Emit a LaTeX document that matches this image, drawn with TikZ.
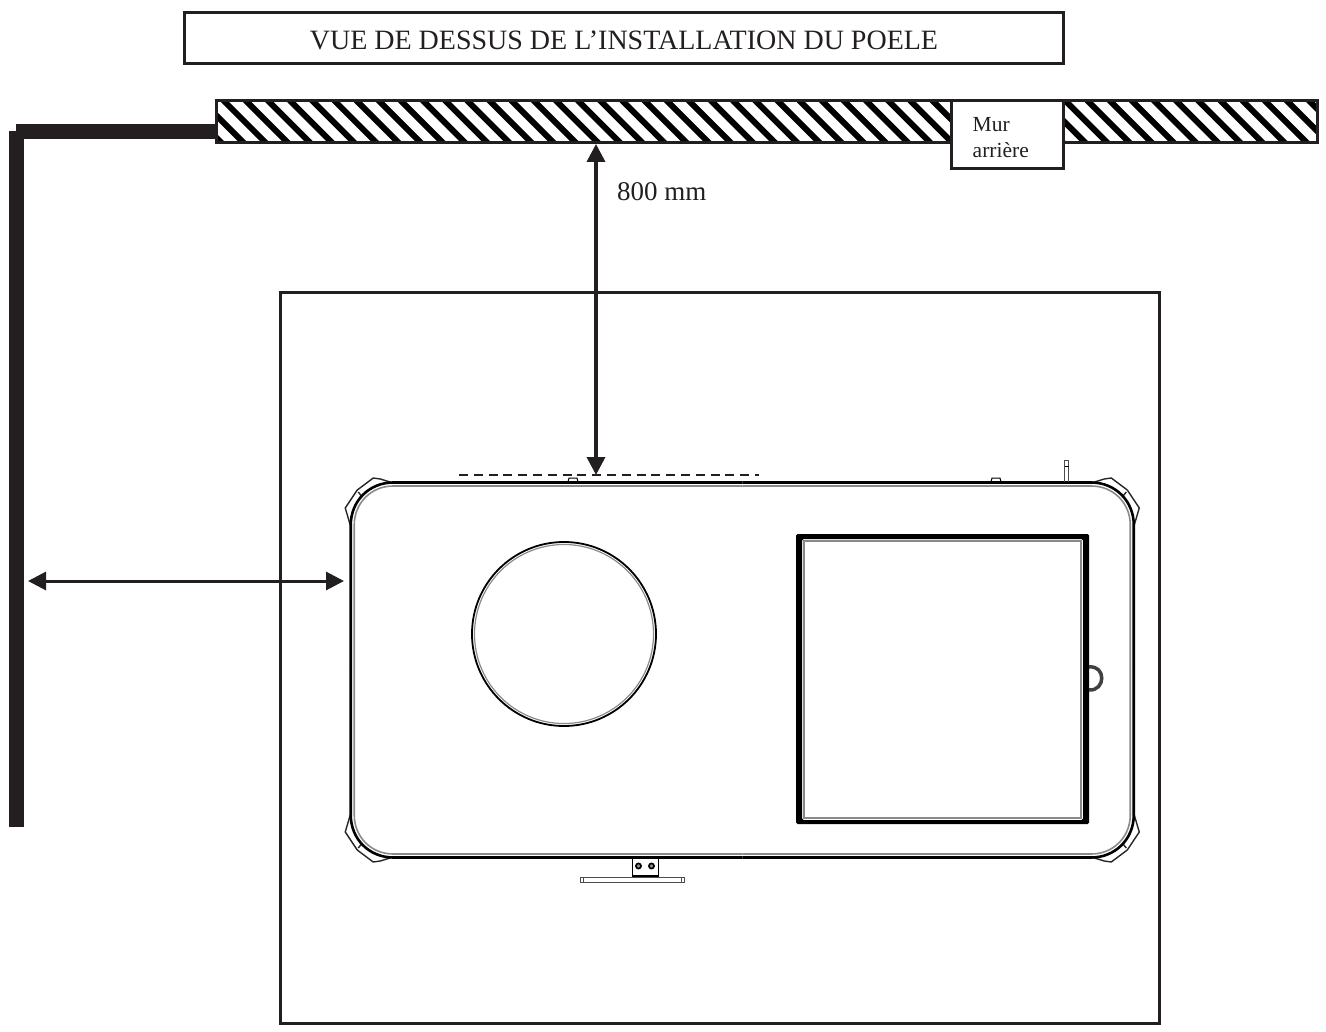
\documentclass[tikz,border=0pt]{standalone}
\usepackage{fontspec}
\setmainfont{Liberation Serif}
\usetikzlibrary{arrows.meta}
\definecolor{ink}{HTML}{231F20}
\definecolor{soft}{HTML}{8A8A8A}
\tikzset{
  boxed/.style={draw=ink,line width=2.6pt,fill=white},
  label/.style={text=ink,inner sep=0pt},
  smalllabel/.style={text=ink,inner sep=0pt,align=left,font=\fontsize{21.5}{26}\selectfont},
  dim/.style={draw=ink,line width=3.6pt,{Triangle[length=18pt,width=18pt]}-{Triangle[length=18pt,width=18pt]}},
  stovesoft/.style={draw=soft,line width=1.6pt},
  fine/.style={draw=black,line width=1pt},
  capline/.style={draw=black!85,line width=1.4pt,line join=round},
}
\begin{document}
\begin{tikzpicture}[x=1pt,y=-1pt]
\useasboundingbox (0,0) rectangle (1326,1032);
% hatched back wall
\begin{scope}
\clip (216.5,101) rectangle (1317,143);
\foreach \i in {0,...,52} {
  \draw[black,line width=6pt] ({178.7+22.15*\i},100) -- ++(44,44);
}
\end{scope}
\draw[draw=ink,line width=3pt] (216.5,101) rectangle (1317,143);
% side wall
\fill[ink] (16,124) rectangle (217,139);
\fill[ink] (9,131) rectangle (24,827);
% title
\node[boxed,minimum width=879pt,minimum height=51pt,inner sep=0pt] (title) at (624,38) {};
\node[label,font=\fontsize{28}{32}\selectfont] (titletext) at (624,40) {VUE DE DESSUS DE L’INSTALLATION DU POELE};
% wall label
\node[boxed,minimum width=112pt,minimum height=67.5pt,inner sep=0pt] (murbox) at (1007.5,134.75) {};
\node[smalllabel,anchor=west] (murtext) at (972.5,137.5) {Mur\\arrière};
% base plate
\node[boxed,minimum width=879pt,minimum height=731pt,inner sep=0pt,fill=none] (plate) at (720,658) {};
% stove body and corner caps, one quadrant at a time
\foreach \sx/\sy in {1/1,-1/1,1/-1,-1/-1} {
  \begin{scope}[shift={(742.25,670)},xscale=\sx,yscale=\sy]
    \draw[capline] (-392,-145) -- (-397,-162) -- (-385,-180) -- (-369,-192) -- (-362,-191) -- (-349,-187);
    \draw[capline] (-384,-178) -- (-380,-173);
    \draw[draw=black,line width=2.6pt] (0,-187.5) -- (-349,-187.5) .. controls (-373,-187.5) and (-391.5,-169) .. (-391.5,-145) -- (-391.5,0);
    \draw[stovesoft] (0,-184) -- (-349,-184) .. controls (-371,-184) and (-388,-167) .. (-388,-145) -- (-388,0);
  \end{scope}
}
% flue circle
\draw[draw=black,line width=1.8pt] (564,634) circle (92);
\draw[draw=soft,line width=1.2pt] (564,634) circle (89.5);
% firebox door
\fill[black,even odd rule,rounded corners=1.5pt] (796,534) rectangle (1089,824) (802,539) rectangle (1083,820);
\draw[draw=soft,line width=1.2pt] (804,541) rectangle (1081,818);
% door handle
\draw[draw=black!75,line width=3.5pt] (1089,667) .. controls (1106,665) and (1106,691) .. (1089,690);
% small parts on the rear edge
\draw[fine] (568,482) -- (569,478) -- (577,478) -- (578,482);
\draw[fine] (991,482) -- (992,478) -- (1000,478) -- (1001,482);
\draw[draw=black!70,line width=1pt] (1064.5,482) -- (1064.5,460.5) -- (1068.5,460.5) -- (1068.5,482);
\draw[draw=black,line width=1pt] (1064.5,466) -- (1068.5,466);
% front bracket
\draw[fine] (632,858) rectangle (658,876);
\draw[draw=black,line width=1.6pt] (632,876) -- (658,876);
\foreach \px in {638.5,651.5} {
  \draw[draw=black,line width=1.6pt,fill=soft] (\px,866) circle (2.6);
}
\draw[draw=black!70,line width=1pt] (580,877) rectangle (684,882);
\draw[draw=black!70,line width=1pt] (583,877) -- (583,882) (681,877) -- (681,882);
% rear reference line
\coordinate (refleft) at (459,475);
\coordinate (refright) at (759,475);
\draw[draw=ink,line width=2.5pt,dash pattern=on 9pt off 5.8pt] (refleft) -- (refright);
% dimensions
\coordinate (walledge) at (596,144);
\coordinate (stoverear) at (596,475);
\coordinate (sidewall) at (28,581);
\coordinate (stoveside) at (344,581);
\draw[dim] (walledge) -- (stoverear);
\draw[dim,line width=3pt] (sidewall) -- (stoveside);
\node[label,font=\fontsize{27}{31}\selectfont,anchor=west] (dimtext) at (617,192) {800 mm};
\end{tikzpicture}
\end{document}
